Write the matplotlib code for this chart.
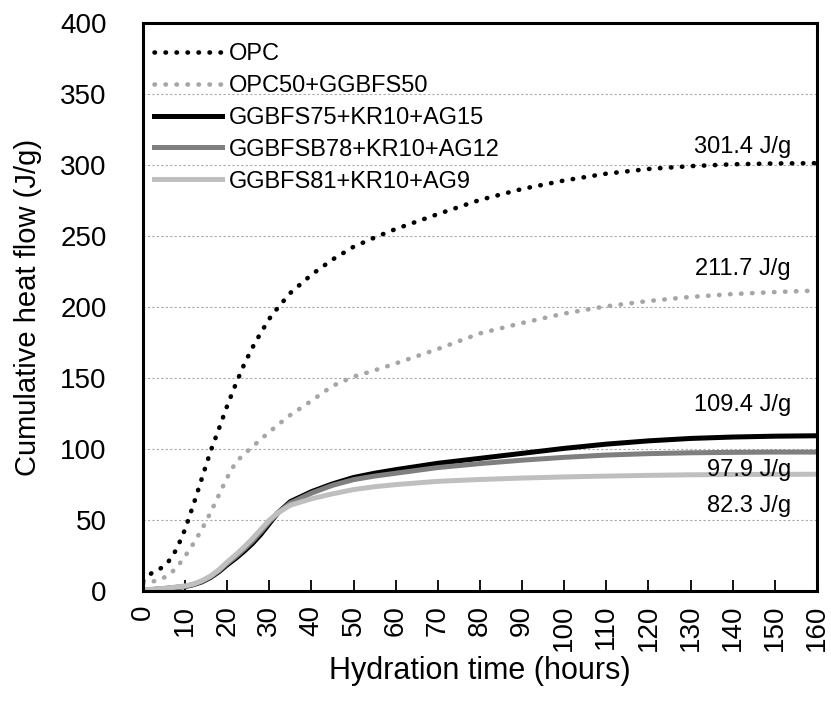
import matplotlib
matplotlib.use("Agg")
import matplotlib.pyplot as plt

plt.rcParams['font.family'] = ['Liberation Sans', 'DejaVu Sans']

# hydration time (h) and cumulative heat (J/g) for each mix
hours = [0, 2, 4, 6, 8, 10, 12, 14, 16, 18, 20, 22, 24, 26, 28, 30, 32, 35,
         40, 45, 50, 55, 60, 70, 80, 90, 100, 110, 120, 130, 140, 150, 160]

opc = [7, 12.5, 15.5, 20.5, 29.5, 43.5, 61, 79.5, 98, 114, 130.5, 145.5, 159.5,
       171.5, 182, 191.8, 199.5, 210, 222.8, 233.5, 242.5, 249, 255, 265.5,
       275.5, 283.2, 289.2, 294, 297.3, 299.3, 300.6, 301.2, 301.4]

opc50 = [5.5, 6.5, 8, 11, 16.5, 24.5, 33.5, 43.5, 55, 67.5, 80, 90.5, 96.5,
         101.5, 107, 112, 117, 124, 134, 144.5, 151, 155.5, 160.3, 170.5,
         181.5, 188.8, 195.5, 200.6, 204.3, 207.2, 209.2, 210.6, 211.7]

ggbfs75 = [0.5, 1, 1.5, 2, 2.6, 3.2, 4.5, 6.5, 9.5, 13.5, 18.5, 23, 28, 33.5,
           40, 47.5, 55, 63, 70, 75.5, 80, 83, 85.5, 90, 93.5, 97, 100.5,
           103.5, 105.8, 107.5, 108.5, 109.1, 109.4]

ggbfsb78 = [0.5, 1, 1.5, 2, 2.7, 3.4, 4.7, 6.9, 10, 14.2, 19.5, 24.2, 29.5,
            35.2, 41.8, 48.8, 55, 62, 69, 74.5, 78.5, 81, 83, 87, 89.8, 92.2,
            94.2, 95.8, 96.8, 97.4, 97.7, 97.9, 97.9]

ggbfs81 = [1, 1.3, 1.7, 2.2, 2.9, 3.6, 5, 7.3, 10.5, 15, 20.5, 25.5, 31, 37,
           43.5, 50, 55, 60.5, 65, 68.5, 71.5, 73.5, 75, 77.3, 78.6, 79.6,
           80.4, 81, 81.5, 81.9, 82.1, 82.2, 82.3]

labels = ['OPC', 'OPC50+GGBFS50', 'GGBFS75+KR10+AG15',
          'GGBFSB78+KR10+AG12', 'GGBFS81+KR10+AG9']

# final-value annotations: (value, y position of the text)
end_notes = [(opc[-1], 313), (opc50[-1], 227), (ggbfs75[-1], 131),
             (ggbfsb78[-1], 85), (ggbfs81[-1], 60)]

fig = plt.figure(figsize=(8.31, 7.02), dpi=100)
ax = fig.add_axes([0.172, 0.158, 0.811, 0.809])

dots = (0, (0.1, 2.3))
ax.plot(hours, opc, color='black', lw=3.3, linestyle=dots,
        dash_capstyle='round', label=labels[0])
ax.plot(hours, opc50, color='#a6a6a6', lw=3.3, linestyle=dots,
        dash_capstyle='round', label=labels[1])
ax.plot(hours, ggbfs75, color='black', lw=3.6, label=labels[2])
ax.plot(hours, ggbfsb78, color='#7f7f7f', lw=3.6, label=labels[3])
ax.plot(hours, ggbfs81, color='#bfbfbf', lw=3.6, label=labels[4])

for val, ypos in end_notes:
    ax.text(153.8, ypos, f'{val:.1f} J/g', ha='right', va='center', fontsize=17)

ax.set_xlim(0, 160)
ax.set_ylim(0, 400)
ax.set_xticks(range(0, 161, 10))
ax.set_yticks(range(0, 401, 50))
ax.tick_params(axis='x', direction='in', length=8, width=1.3, labelsize=20,
               labelrotation=90, pad=10)
ax.tick_params(axis='y', length=0, labelsize=20, pad=26)

for y in range(50, 400, 50):
    ax.axhline(y, color='#a8a8a8', lw=0.8, linestyle=(0, (2, 2)), zorder=0)

for s in ax.spines.values():
    s.set_linewidth(2.2)

ax.set_xlabel('Hydration time (hours)', fontsize=22, labelpad=3)
ax.set_ylabel('Cumulative heat flow (J/g)', fontsize=21, labelpad=13)

ax.legend(loc='upper left', bbox_to_anchor=(-0.004, 0.99), frameon=False,
          fontsize=17, handlelength=2.85, handletextpad=0.3, labelspacing=0.42,
          borderaxespad=0.2)

fig.savefig('out.png', dpi=100)
